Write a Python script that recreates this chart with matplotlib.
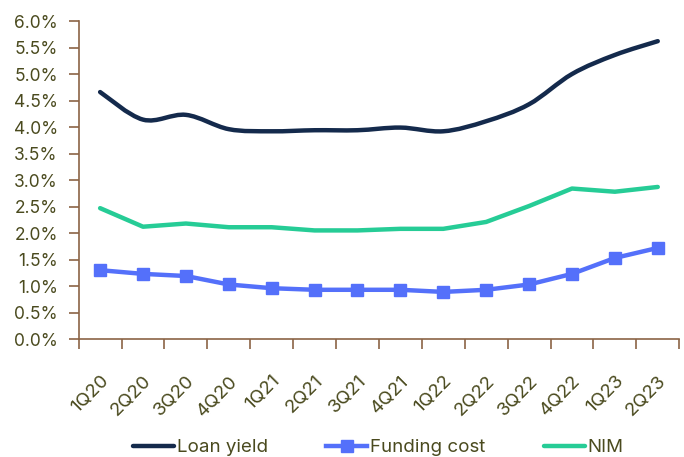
import numpy as np
import matplotlib
matplotlib.use("Agg")
import matplotlib.pyplot as plt
from matplotlib.path import Path
from matplotlib.patches import PathPatch
from matplotlib.lines import Line2D
from matplotlib.ticker import PercentFormatter

quarters = ["1Q20", "2Q20", "3Q20", "4Q20", "1Q21", "2Q21", "3Q21", "4Q21",
            "1Q22", "2Q22", "3Q22", "4Q22", "1Q23", "2Q23"]
loan_yield = [4.66, 4.14, 4.23, 3.96, 3.92, 3.94, 3.94, 3.99, 3.92, 4.11, 4.43, 5.00, 5.36, 5.62]
funding_cost = [1.30, 1.23, 1.19, 1.03, 0.96, 0.93, 0.93, 0.93, 0.89, 0.93, 1.03, 1.23, 1.53, 1.72]
nim = [2.47, 2.12, 2.18, 2.11, 2.11, 2.05, 2.05, 2.08, 2.08, 2.21, 2.51, 2.84, 2.78, 2.87]

navy = "#142A4C"
blue = "#5470FA"
green = "#26CC96"
text_col = "#4A4A1E"
axis_col = "#8B6446"

plt.rcParams["font.family"] = ["Inter", "DejaVu Sans"]


def smooth_path(x, y):
    # Excel-style smoothed line as cubic bezier segments
    x = np.asarray(x, float)
    y = np.asarray(y, float)
    verts = [(x[0], y[0])]
    codes = [Path.MOVETO]
    n = len(x)
    for i in range(n - 1):
        x0, y0 = (x[i - 1], y[i - 1]) if i > 0 else (x[i], y[i])
        x3, y3 = (x[i + 2], y[i + 2]) if i + 2 < n else (x[i + 1], y[i + 1])
        c1 = (x[i] + (x[i + 1] - x0) / 6, y[i] + (y[i + 1] - y0) / 6)
        c2 = (x[i + 1] - (x3 - x[i]) / 6, y[i + 1] - (y3 - y[i]) / 6)
        verts += [c1, c2, (x[i + 1], y[i + 1])]
        codes += [Path.CURVE4] * 3
    return Path(verts, codes)


fig = plt.figure(figsize=(6.84, 4.57), dpi=100)
ax = fig.add_axes([0.115, 0.258, 0.878, 0.696])

x = np.arange(len(quarters))
ax.add_patch(PathPatch(smooth_path(x, loan_yield), facecolor="none",
                       edgecolor=navy, lw=3.2, capstyle="round", zorder=3))
ax.plot(x, funding_cost, color=blue, lw=3.2, marker="s", markersize=9, zorder=3)
ax.plot(x, nim, color=green, lw=3.2, solid_capstyle="round", zorder=3)

ax.set_xlim(-0.5, len(quarters) - 0.5)
ax.set_ylim(0, 6.0)
ax.set_yticks(np.arange(0, 6.01, 0.5))
ax.yaxis.set_major_formatter(PercentFormatter(decimals=1))
ax.set_xticks(np.arange(-0.5, len(quarters), 1.0))
ax.set_xticklabels([])
ax.set_xticks(x, minor=True)
ax.set_xticklabels(quarters, minor=True, rotation=45, ha="right",
                   rotation_mode="anchor")
ax.tick_params(axis="x", which="minor", length=0, pad=24, labelsize=13.5,
               labelcolor=text_col)
ax.tick_params(axis="x", which="major", length=7, color=axis_col, width=1.2)
ax.tick_params(axis="y", length=7, color=axis_col, width=1.2,
               labelsize=12.5, labelcolor=text_col, pad=8)

for s in ["top", "right"]:
    ax.spines[s].set_visible(False)
for s in ["left", "bottom"]:
    ax.spines[s].set_color(axis_col)
    ax.spines[s].set_linewidth(1.2)

handles = [Line2D([], [], color=navy, lw=3.2, solid_capstyle="round"),
           Line2D([], [], color=blue, lw=3.2, marker="s", markersize=9),
           Line2D([], [], color=green, lw=3.2, solid_capstyle="round")]
fig.legend(handles, ["Loan yield", "Funding cost", "NIM"], loc="lower center",
           bbox_to_anchor=(0.553, -0.035), ncol=3, frameon=False,
           fontsize=13.5, labelcolor=text_col, handlelength=2.2,
           handletextpad=0.15, columnspacing=3.1)

fig.savefig("out.png", dpi=100)
